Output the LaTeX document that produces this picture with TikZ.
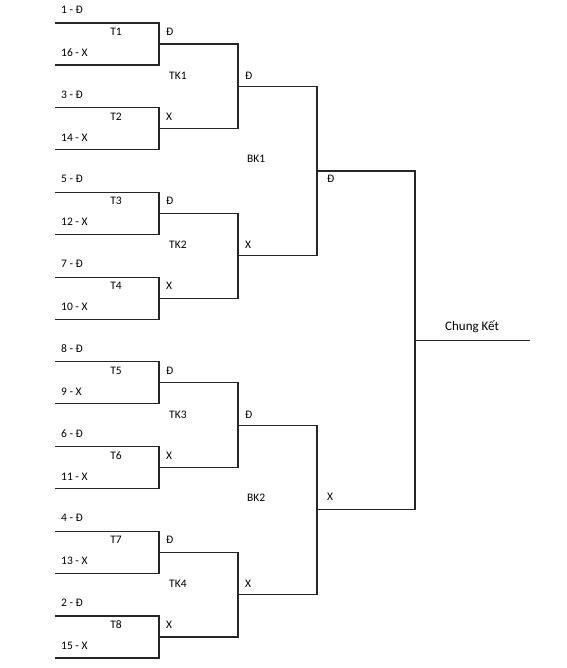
\documentclass[tikz,border=0pt]{standalone}
\usepackage{fontspec}
\setmainfont{Carlito}
\usetikzlibrary{calc}

\begin{document}
\begin{tikzpicture}[x=1pt, y=-1pt,
    bline/.style={black!85, line width=1.2pt},
    lbl/.style={anchor=base west, inner sep=0pt, font=\fontsize{11.5}{13}\selectfont}]
    % Fix the page size
    \useasboundingbox (0,0) rectangle (566,668);

    % First round: T1 .. T8
    \foreach \i/\na/\nb/\wn in {1/1/16/Đ, 2/3/14/X, 3/5/12/Đ, 4/7/10/X,
                                5/8/9/Đ, 6/6/11/X, 7/4/13/Đ, 8/2/15/X} {
        \pgfmathsetmacro{\yy}{23+84.7*(\i-1)}
        \coordinate (T\i tl) at (55,\yy);
        \coordinate (T\i tr) at (159,\yy);
        \coordinate (T\i bl) at (55,\yy+42);
        \coordinate (T\i br) at (159,\yy+42);
        \coordinate (T\i o) at (159,\yy+21);
        \draw[bline] (T\i tl) -- (T\i tr) -- (T\i br) -- (T\i bl);
        \node[lbl] (T\i a) at (61,\yy-9.5) {\na\ - Đ};
        \node[lbl, anchor=base] (T\i n) at (116,\yy+12.5) {T\i};
        \node[lbl] (T\i b) at (61,\yy+33.5) {\nb\ - X};
        \node[lbl] (T\i w) at (166,\yy+12.5) {\wn};
    }

    % Quarter finals: TK1 .. TK4
    \foreach \k/\a/\b/\wn in {1/1/2/Đ, 2/3/4/X, 3/5/6/Đ, 4/7/8/X} {
        \coordinate (TK\k) at ($(T\a o)!.5!(T\b o)+(79,0)$);
        \draw[bline] (T\a o) -| (TK\k) |- (T\b o);
        \node[lbl] (TK\k n) at ($(T\a tl)+(114,56.5)$) {TK\k};
        \node[lbl] (TK\k w) at ($(T\a tl)+(190,56.5)$) {\wn};
    }

    % Semi finals: BK1, BK2
    \coordinate (BK1) at ($(TK1)!.5!(TK2)+(79,0)$);
    \coordinate (BK2) at ($(TK3)!.5!(TK4)+(79,0)$);
    \draw[bline] (TK1) -| (BK1) |- (TK2);
    \draw[bline] (TK3) -| (BK2) |- (TK4);
    \node[lbl] (BK1n) at (247,162.5) {BK1};
    \node[lbl] (BK2n) at (247,501.3) {BK2};
    \node[lbl] (BK1w) at (327,182.5) {Đ};
    \node[lbl] (BK2w) at (327,500.5) {X};

    % Final
    \coordinate (CK) at ($(BK1)!.5!(BK2)+(98,0)$);
    \coordinate (CKe) at ($(CK)+(115,0)$);
    \draw[bline] (BK1) -| (CK) |- (BK2);
    \draw[bline] (CK) -- (CKe);
    \node[lbl, font=\fontsize{13}{15}\selectfont] (CKn) at (445,330.5) {Chung Kết};
\end{tikzpicture}
\end{document}
